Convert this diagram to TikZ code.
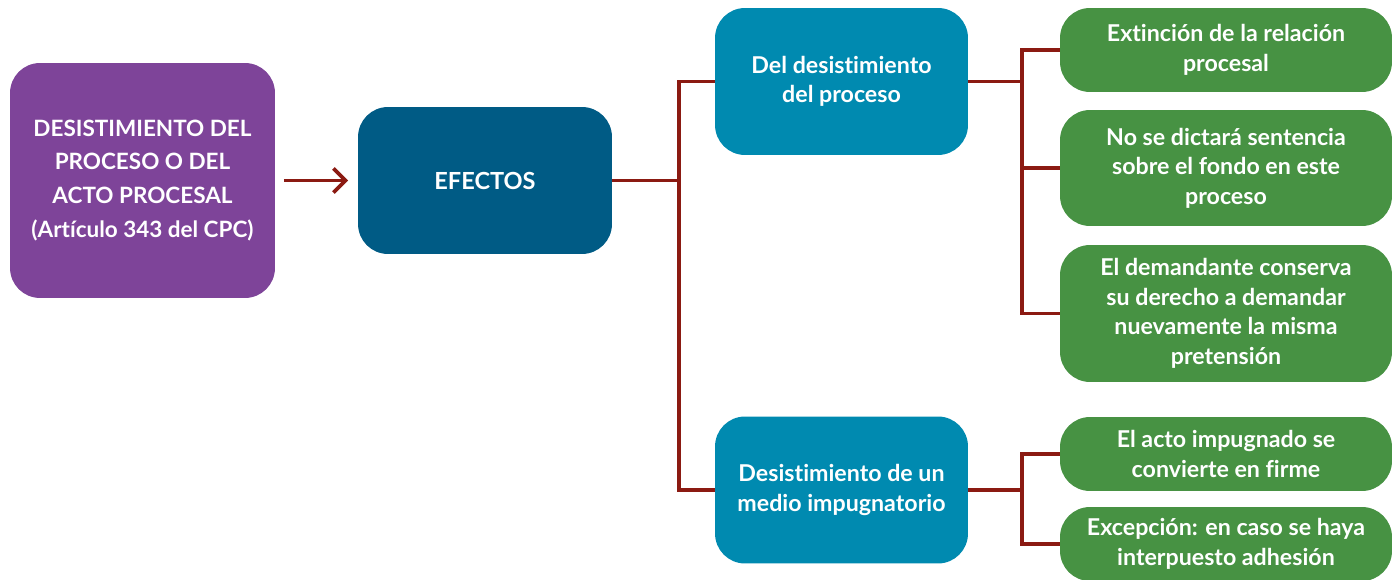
\documentclass[tikz,border=0pt]{standalone}
\usepackage{fontspec}
\setmainfont[Ligatures=NoCommon]{Lato}
\usepackage{xcolor}
\usepackage{tikz}
\usetikzlibrary{arrows.meta,positioning}
\definecolor{purplebox}{HTML}{7E4499}
\definecolor{darkblue}{HTML}{005B85}
\definecolor{lightblue}{HTML}{008AB0}
\definecolor{greenbox}{HTML}{479243}
\definecolor{linered}{HTML}{8B1A12}

\begin{document}
\begin{tikzpicture}[
    x=0.02cm, y=-0.02cm,
    box/.style={rounded corners=0.6cm, align=center, text=white, inner sep=2pt, outer sep=0pt,
        font=\bfseries\fontsize{12.8}{19.3}\selectfont},
    main/.style={box, fill=purplebox, minimum width=5.3cm, minimum height=4.7cm},
    efecto/.style={box, fill=darkblue, minimum width=5.08cm, minimum height=2.94cm,
        font=\bfseries\fontsize{13.4}{19.3}\selectfont},
    rama/.style={box, fill=lightblue, minimum width=5.06cm, minimum height=2.94cm,
        font=\bfseries\fontsize{13.2}{16.6}\selectfont},
    hoja/.style={box, fill=greenbox, minimum width=6.64cm,
        font=\bfseries\fontsize{13.2}{16.8}\selectfont},
    conn/.style={draw=linered, line width=2.1pt},
    arr/.style={-{Straight Barb[length=2.4mm, width=4.8mm, line width=2.1pt]}, draw=linered, line width=2.1pt},
]
    \useasboundingbox (0,0) rectangle (1392,580);

    % Main box
    \node[main] (desist) at (142.5, 180.5) {DESISTIMIENTO DEL\\PROCESO O DEL\\ACTO PROCESAL\\(Artículo 343 del CPC)};
    \node[efecto] (efectos) at (485, 180.5) {EFECTOS};

    % Branches
    \node[rama] (proceso) at (841.5, 81.5) {Del desistimiento\\del proceso};
    \node[rama] (medio) at (841.5, 490) {Desistimiento de un\\medio impugnatorio};

    % Leaves
    \node[hoja, minimum height=1.68cm] (extincion) at (1226, 50) {Extinción de la relación\\procesal};
    \node[hoja, minimum height=2.32cm] (sentencia) at (1226, 168) {No se dictará sentencia\\sobre el fondo en este\\proceso};
    \node[hoja, minimum height=2.74cm] (conserva) at (1226, 313.5) {El demandante conserva\\su derecho a demandar\\nuevamente la misma\\pretensión};
    \node[hoja, minimum height=1.48cm] (firme) at (1226, 454) {El acto impugnado se\\convierte en firme};
    \node[hoja, minimum height=1.48cm] (excepcion) at (1226, 544) {Excepción: en caso se haya\\interpuesto adhesión};

    % Junctions
    \coordinate (j1) at (679, 180.5);
    \coordinate (j2) at (1022, 81.5);
    \coordinate (j3) at (1022, 490);

    % Arrows
    \draw[arr] ([xshift=0.18cm]desist.east) -- ([xshift=-0.2cm]efectos.west);
    \draw[conn] (efectos.east) -- (j1);
    \draw[conn] (proceso.west) -| (j1) |- (medio.west);
    \draw[conn] (proceso.east) -- (j2);
    \draw[conn] (extincion.west) -| (j2) |- (conserva.west);
    \draw[conn] (j2) |- (sentencia.west);
    \draw[conn] (medio.east) -- (j3);
    \draw[conn] (firme.west) -| (j3) |- (excepcion.west);
\end{tikzpicture}
\end{document}
